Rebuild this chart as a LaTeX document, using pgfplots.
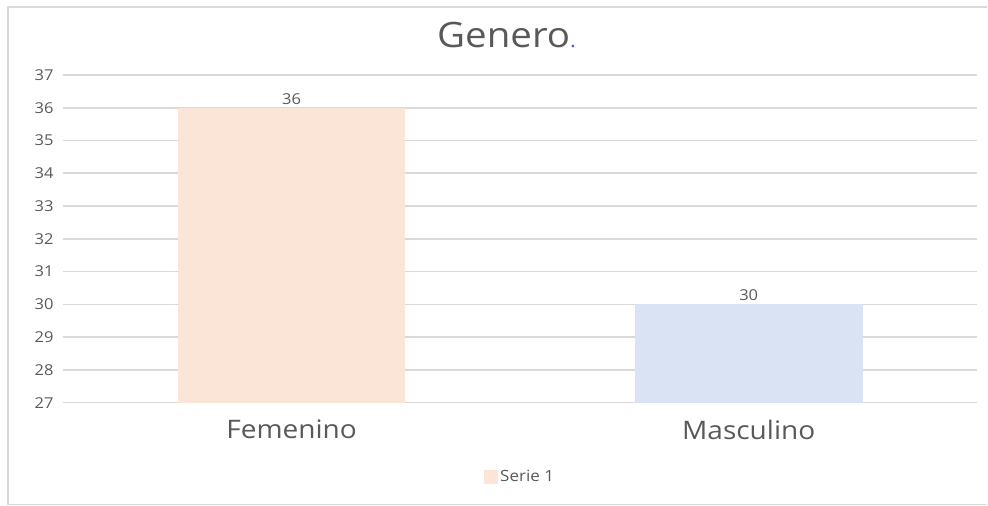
\documentclass[border=0pt]{standalone}
\usepackage{fontspec}
\setmainfont[FakeStretch=1.1]{Open Sans}
\newfontfamily\osans[FakeStretch=1.1]{Open Sans}
\usepackage{pgfplots}
\pgfplotsset{compat=1.18}
\definecolor{txt}{HTML}{595959}
\definecolor{grd}{HTML}{D9D9D9}
\definecolor{peach}{HTML}{FBE5D6}
\definecolor{lblue}{HTML}{DAE3F3}
\definecolor{frame}{HTML}{D9D9D9}
\definecolor{dotblue}{HTML}{4F5BFF}
\begin{document}
\begin{tikzpicture}[x=1pt,y=1pt]
\path (0,0) rectangle (988,506);
\draw[frame,line width=1.5pt] (8,1) -- (8,499) -- (988,499);
\draw[frame,line width=1pt] (8,1) -- (988,1);
\node[text=txt,font=\osans\fontsize{35}{40}\selectfont] at (507,471) {Genero{\color{dotblue}\fontsize{20}{24}\selectfont.}};
\begin{axis}[
  at={(63pt,103pt)}, anchor=south west,
  scale only axis, width=915pt, height=328pt,
  xmin=-0.5, xmax=1.5, ymin=27, ymax=37,
  ytick={27,28,...,37},
  xtick={0,1}, xticklabels={Femenino,Masculino},
  xticklabel style={font=\osans\fontsize{25.5}{30}\selectfont, text=txt, yshift=-14pt},
  yticklabel style={font=\fontsize{15}{18}\selectfont, text=txt, xshift=-6pt},
  /pgf/number format/assume math mode=true,
  major tick length=0pt,
  axis line style={draw=none},
  ymajorgrids, major grid style={grd, line width=1.6pt},
  ybar, bar width=228pt, bar shift=0pt,
  nodes near coords,
  every node near coord/.append style={font=\fontsize{15}{18}\selectfont, text=txt},
  legend style={at={(0.5,-0.2256)}, anchor=center, draw=none, font=\fontsize{15.5}{18}\selectfont, text=txt, legend cell align=left},
  legend image code/.code={\fill[#1] (0pt,-7pt) rectangle (14pt,7pt);},
  clip=false,
]
\addplot[fill=peach, draw=none] coordinates {(0,36)};
\addplot[fill=lblue, draw=none] coordinates {(1,30)};
\legend{Serie 1}
\end{axis}
\end{tikzpicture}
\end{document}
